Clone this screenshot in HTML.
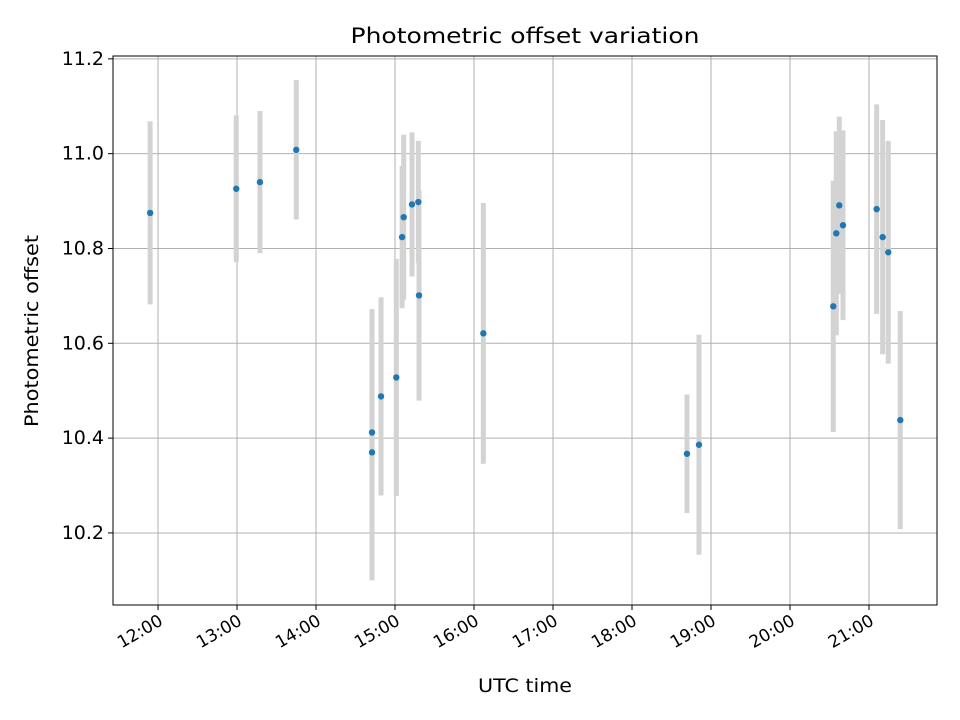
<!DOCTYPE html>
<html><head><meta charset="utf-8"><style>
body{margin:0;background:#fff}
svg{display:block;font-family:"DejaVu Sans","Liberation Sans",sans-serif}
</style></head><body>
<svg id="chart" width="960" height="720" viewBox="0 0 960 720" xmlns="http://www.w3.org/2000/svg">
<rect width="960" height="720" fill="#fff"/>
<text x="525" y="43" text-anchor="middle" font-size="21" textLength="349" lengthAdjust="spacingAndGlyphs">Photometric offset variation</text>
<text x="525" y="692" text-anchor="middle" font-size="19" textLength="94" lengthAdjust="spacingAndGlyphs">UTC time</text>
<text transform="translate(38,331) rotate(-90)" text-anchor="middle" font-size="19" textLength="192" lengthAdjust="spacingAndGlyphs">Photometric offset</text>
<g id="grid"></g>
<g id="bars"></g>
<g id="pts"></g>
<g id="ticks"></g>
<rect x="113" y="56" width="824" height="549" fill="none" stroke="#000" stroke-width="1"/>
</svg>
<script>
const times = [11.90,12.99,13.29,13.75,14.709,14.709,14.823,15.016,15.09,15.11,15.215,15.295,15.304,16.118,18.696,18.848,20.548,20.586,20.624,20.671,21.097,21.173,21.244,21.396];
const offsets = [10.875,10.926,10.940,11.008,10.412,10.370,10.488,10.528,10.824,10.866,10.893,10.898,10.701,10.621,10.367,10.386,10.678,10.832,10.891,10.849,10.883,10.824,10.792,10.438];
const errors = [0.193,0.155,0.150,0.147,0.26,0.27,0.209,0.25,0.15,0.174,0.152,0.129,0.222,0.275,0.125,0.232,0.265,0.215,0.187,0.2,0.221,0.247,0.235,0.23];
const xTickHours = [12,13,14,15,16,17,18,19,20,21];
const xTickLabels = ["12:00","13:00","14:00","15:00","16:00","17:00","18:00","19:00","20:00","21:00"];
const yTicks = [10.2,10.4,10.6,10.8,11.0,11.2];
const yTickLabels = ["10.2","10.4","10.6","10.8","11.0","11.2"];

const X0=113,X1=937,Y0=56,Y1=605;
const xMin=11.430,xMax=21.861,yMin=10.048,yMax=11.206;
const xs=t=>X0+(t-xMin)/(xMax-xMin)*(X1-X0);
const ys=v=>Y1-(v-yMin)/(yMax-yMin)*(Y1-Y0);
const NS="http://www.w3.org/2000/svg";
function mk(tag,attrs,parent){const e=document.createElementNS(NS,tag);for(const k in attrs)e.setAttribute(k,attrs[k]);parent.appendChild(e);return e;}
const grid=document.getElementById('grid'),bars=document.getElementById('bars'),pts=document.getElementById('pts'),ticks=document.getElementById('ticks');

xTickHours.forEach((h,i)=>{
  const x=xs(h);
  const g=mk('line',{x1:x,x2:x,y1:Y0,y2:Y1,stroke:'#b0b0b0','stroke-width':1},grid);
  
  
  const t=mk('line',{x1:x,x2:x,y1:Y1,y2:Y1+5,stroke:'#000'},ticks);
  
  
  const l=mk('text',{x:0,y:0,'font-size':17,'text-anchor':'end',transform:`translate(${x+6},${Y1+19}) rotate(-30)`},ticks);
  l.textContent=xTickLabels[i];
  
  
});
yTicks.forEach((v,i)=>{
  const y=ys(v);
  const g=mk('line',{x1:X0,x2:X1,y1:y,y2:y,stroke:'#b0b0b0','stroke-width':1},grid);
  
  
  const t=mk('line',{x1:X0-5,x2:X0,y1:y,y2:y,stroke:'#000'},ticks);
  
  
  const l=mk('text',{x:X0-9,y:y+6,'font-size':19,'text-anchor':'end'},ticks);
  l.textContent=yTickLabels[i];
  
  
});
times.forEach((t,i)=>{
  const x=xs(t);
  const b=mk('line',{x1:x,x2:x,y1:ys(offsets[i]+errors[i]),y2:ys(offsets[i]-errors[i]),stroke:'#d3d3d3','stroke-width':5},bars);
  
  
});
times.forEach((t,i)=>{
  const c=mk('circle',{cx:xs(t),cy:ys(offsets[i]),r:3.2,fill:'#1f77b4'},pts);
  
  
});
</script>
</body></html>
